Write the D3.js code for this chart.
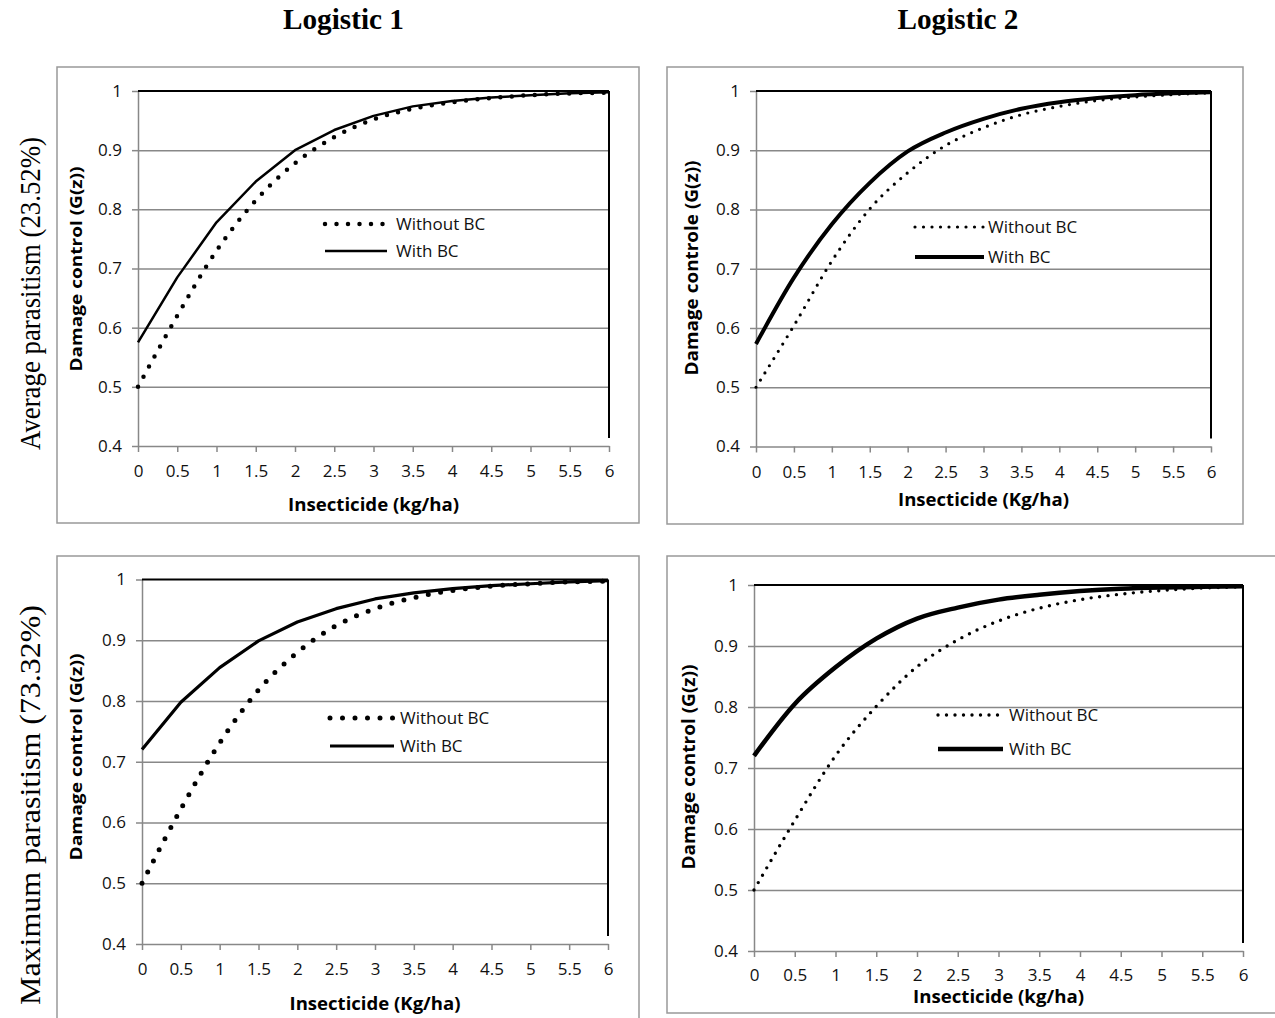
<!DOCTYPE html>
<html>
<head>
  <meta charset="utf-8">
  <script src="https://d3js.org/d3.v7.min.js"></script>
  <style>
    body { margin: 0; background: #fff; }
    svg { display: block; }
  </style>
</head>
<body>
<script>
// insecticide doses (kg/ha) where the curves were read
var doses = [0, 0.5, 1, 1.5, 2, 2.5, 3, 3.5, 4, 4.5, 5, 5.5, 6];

// damage control G(z)
var log1AvgWithout = [0.5, 0.62, 0.73, 0.815, 0.878, 0.922, 0.952, 0.97, 0.981, 0.988, 0.993, 0.996, 0.997];
var log1AvgWith    = [0.575, 0.685, 0.778, 0.847, 0.9, 0.934, 0.958, 0.974, 0.983, 0.989, 0.993, 0.996, 0.998];
var log2AvgWithout = [0.5, 0.604, 0.713, 0.801, 0.862, 0.908, 0.938, 0.96, 0.974, 0.984, 0.99, 0.994, 0.997];
var log2AvgWith    = [0.573, 0.685, 0.775, 0.845, 0.898, 0.93, 0.953, 0.97, 0.981, 0.988, 0.993, 0.996, 0.998];
var log1MaxWithout = [0.5, 0.622, 0.731, 0.818, 0.88, 0.924, 0.952, 0.97, 0.982, 0.989, 0.993, 0.996, 0.997];
var log1MaxWith    = [0.72, 0.798, 0.855, 0.899, 0.93, 0.952, 0.968, 0.978, 0.985, 0.99, 0.993, 0.996, 0.998];
var log2MaxWithout = [0.5, 0.614, 0.72, 0.801, 0.866, 0.91, 0.941, 0.962, 0.976, 0.985, 0.991, 0.995, 0.997];
var log2MaxWith    = [0.72, 0.805, 0.865, 0.912, 0.945, 0.963, 0.976, 0.984, 0.99, 0.994, 0.996, 0.997, 0.998];

var xTicks = [0, 0.5, 1, 1.5, 2, 2.5, 3, 3.5, 4, 4.5, 5, 5.5, 6];
var yTicks = [0.4, 0.5, 0.6, 0.7, 0.8, 0.9, 1];

var colTitles = ["Logistic 1", "Logistic 2"];
var rowTitles = ["Average parasitism (23.52%)", "Maximum parasitism (73.32%)"];
var yTitles = ["Damage control (G(z))", "Damage controle (G(z))", "Damage control (G(z))", "Damage control (G(z))"];
var xTitles = ["Insecticide (kg/ha)", "Insecticide (Kg/ha)", "Insecticide (Kg/ha)", "Insecticide (kg/ha)"];
var seriesNames = ["Without BC", "With BC"];

var grey = "#888";
var sans = "'Open Sans', sans-serif";
var serif = "'Liberation Serif', 'Times New Roman', serif";

var svg = d3.select("body").append("svg")
  .attr("width", 1275)
  .attr("height", 1018);

// layout of the four panels
var panels = [
  { box: [57, 67, 639, 523], xr: [138, 609], yr: [446, 91], xlabPad: 13, xTitleY: 505, yTitleX: 76, yTitleY: 269, ytLen: 205, ytSize: 16,
    without: log1AvgWithout, withBC: log1AvgWith, dot: 4.5, gap: 11.5, solid: 2.5, smooth: false,
    leg: { x0: 325, x1: 387, y1: 224, y2: 251, tx: 396 } },
  { box: [667, 67, 1243, 524], xr: [756, 1211], yr: [446.5, 91], xlabPad: 13, xTitleY: 500, yTitleX: 692, yTitleY: 268, ytLen: 215, ytSize: 18,
    without: log2AvgWithout, withBC: log2AvgWith, dot: 3.2, gap: 8.5, solid: 4, smooth: true,
    leg: { x0: 915, x1: 984, y1: 227, y2: 257, tx: 988 } },
  { box: [57, 556, 639, 1040], xr: [142, 608], yr: [944, 579.5], xlabPad: 13, xTitleY: 1004, yTitleX: 76, yTitleY: 757, ytLen: 207, ytSize: 16,
    without: log1MaxWithout, withBC: log1MaxWith, dot: 5, gap: 12.5, solid: 3.2, smooth: false,
    leg: { x0: 330, x1: 394, y1: 718, y2: 746, tx: 400 } },
  { box: [667, 556, 1290, 1013], xr: [754, 1243], yr: [951, 585], xlabPad: 12, xTitleY: 997, yTitleX: 689, yTitleY: 767, ytLen: 205, ytSize: 18,
    without: log2MaxWithout, withBC: log2MaxWith, dot: 3.4, gap: 8.5, solid: 4.5, smooth: true,
    leg: { x0: 938, x1: 1003, y1: 715, y2: 749, tx: 1009 } }
];

panels.forEach(function(p, i) {
  var g = svg.append("g");
  var x = d3.scaleLinear().domain([0, 6]).range(p.xr);
  var y = d3.scaleLinear().domain([0.4, 1]).range(p.yr);
  var w = p.xr[1] - p.xr[0];

  g.append("rect")
    .attr("x", p.box[0]).attr("y", p.box[1])
    .attr("width", p.box[2] - p.box[0]).attr("height", p.box[3] - p.box[1])
    .attr("fill", "none").attr("stroke", "#999").attr("stroke-width", 1.5);

  // gridlines
  var grid = g.append("g")
    .attr("transform", "translate(" + p.xr[0] + ",0)")
    .call(d3.axisLeft(y).tickValues(yTicks.slice(1, -1)).tickSize(-w).tickFormat(""));
  grid.select(".domain").remove();
  grid.selectAll("line").attr("stroke", grey).attr("stroke-width", 1.5);

  // y axis
  var ya = g.append("g")
    .attr("transform", "translate(" + p.xr[0] + ",0)")
    .call(d3.axisLeft(y).tickValues(yTicks).tickFormat(d3.format("")).tickSize(6).tickSizeOuter(0).tickPadding(10));

  // x axis
  var xa = g.append("g")
    .attr("transform", "translate(0," + p.yr[0] + ")")
    .call(d3.axisBottom(x).tickValues(xTicks).tickFormat(d3.format("")).tickSize(6).tickSizeOuter(0).tickPadding(p.xlabPad));

  [ya, xa].forEach(function(a) {
    a.attr("font-family", sans).attr("font-size", 17);
    a.selectAll("path, line").attr("stroke", grey).attr("stroke-width", 1.5);
    a.selectAll("text").attr("fill", "#111");
  });

  // black top and right border of the plot area
  g.append("line")
    .attr("x1", x(0)).attr("x2", x(6)).attr("y1", y(1)).attr("y2", y(1))
    .attr("stroke", "#000").attr("stroke-width", 2);
  g.append("line")
    .attr("x1", x(6)).attr("x2", x(6)).attr("y1", y(1)).attr("y2", y(0.4) - 8)
    .attr("stroke", "#000").attr("stroke-width", 2);

  // series
  var line = d3.line()
    .x(function(d, k) { return x(doses[k]); })
    .y(function(d) { return y(d); })
    .curve(p.smooth ? d3.curveMonotoneX : d3.curveLinear);
  var dotLine = d3.line()
    .x(function(d, k) { return x(doses[k]); })
    .y(function(d) { return y(d); })
    .curve(d3.curveMonotoneX);

  g.append("path")
    .attr("d", dotLine(p.without))
    .attr("fill", "none").attr("stroke", "#000")
    .attr("stroke-width", p.dot).attr("stroke-linecap", "round")
    .attr("stroke-dasharray", "0 " + p.gap);
  g.append("path")
    .attr("d", line(p.withBC))
    .attr("fill", "none").attr("stroke", "#000")
    .attr("stroke-width", p.solid).attr("stroke-linejoin", "round");

  // legend
  var L = p.leg;
  g.append("line")
    .attr("x1", L.x0).attr("x2", L.x1).attr("y1", L.y1).attr("y2", L.y1)
    .attr("stroke", "#000").attr("stroke-width", p.dot).attr("stroke-linecap", "round")
    .attr("stroke-dasharray", "0 " + p.gap);
  g.append("line")
    .attr("x1", L.x0).attr("x2", L.x1).attr("y1", L.y2).attr("y2", L.y2)
    .attr("stroke", "#000").attr("stroke-width", p.solid);
  [L.y1, L.y2].forEach(function(ly, k) {
    g.append("text")
      .attr("x", L.tx).attr("y", ly).attr("dy", "0.36em")
      .attr("font-family", sans).attr("font-size", 17)
      .attr("fill", "#111")
      .text(seriesNames[k]);
  });

  // axis titles
  g.append("text")
    .attr("x", (p.xr[0] + p.xr[1]) / 2).attr("y", p.xTitleY).attr("dy", "0.36em")
    .attr("text-anchor", "middle")
    .attr("font-family", sans).attr("font-weight", "bold").attr("font-size", 17)
    .attr("textLength", 171).attr("lengthAdjust", "spacingAndGlyphs")
    .text(xTitles[i]);
  g.append("text")
    .attr("transform", "translate(" + p.yTitleX + "," + p.yTitleY + ") rotate(-90)")
    .attr("dy", "0.36em")
    .attr("text-anchor", "middle")
    .attr("font-family", sans).attr("font-weight", "bold").attr("font-size", p.ytSize)
    .attr("textLength", p.ytLen).attr("lengthAdjust", "spacingAndGlyphs")
    .text(yTitles[i]);
});

// column titles
var colX = [343.5, 958];
colTitles.forEach(function(t, k) {
  svg.append("text")
    .attr("x", colX[k]).attr("y", 29)
    .attr("text-anchor", "middle")
    .attr("font-family", serif)
    .attr("font-weight", "bold").attr("font-size", 29)
    .attr("textLength", 121).attr("lengthAdjust", "spacingAndGlyphs")
    .text(t);
});

// row titles
var rowY = [293.5, 805];
var rowLen = [313, 400];
rowTitles.forEach(function(t, k) {
  svg.append("text")
    .attr("transform", "translate(40," + rowY[k] + ") rotate(-90)")
    .attr("text-anchor", "middle")
    .attr("font-family", serif)
    .attr("font-size", 29)
    .attr("textLength", rowLen[k]).attr("lengthAdjust", "spacingAndGlyphs")
    .text(t);
});
</script>
</body>
</html>
